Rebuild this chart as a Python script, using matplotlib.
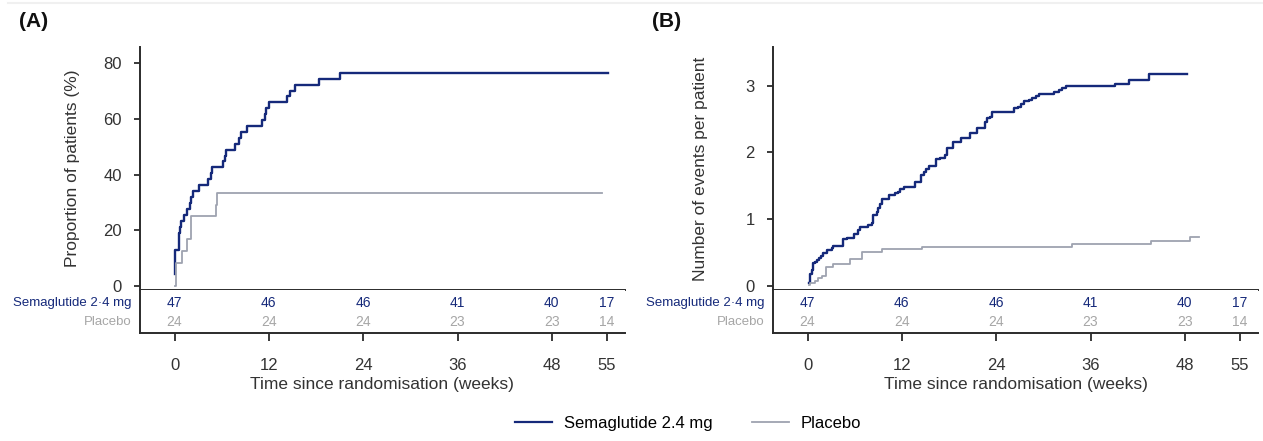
import matplotlib
matplotlib.use("Agg")
import matplotlib.pyplot as plt
from matplotlib.lines import Line2D

plt.rcParams['font.family'] = ['Liberation Sans', 'DejaVu Sans']

NAVY = "#15297a"
GREY = "#9ea3b0"
GREY_TXT = "#a6a6a6"
AXC = "#2b2b2b"

# Panel A: proportion of patients (%), step curves
sema_a_t = [0, 0.05, 0.55, 0.7, 0.85, 1.2, 1.55, 1.95, 2.15, 2.35, 3.1, 4.3, 4.6, 4.8,
            6.2, 6.4, 6.5, 7.7, 8.25, 8.45, 9.2, 11.1, 11.45, 11.65, 12.0, 14.3, 14.7,
            15.3, 18.4, 21.1, 55.2]
sema_a_v = [4.3, 12.8, 19.1, 21.3, 23.4, 25.5, 27.7, 29.8, 31.9, 34.0, 36.2, 38.3, 40.4,
            42.6, 44.7, 46.8, 48.9, 51.1, 53.2, 55.3, 57.4, 59.6, 61.7, 63.8, 66.0, 68.1,
            70.2, 72.3, 74.5, 76.6, 76.6]
plac_a_t = [0, 0.13, 1.0, 1.6, 2.15, 5.25, 5.4, 54.4]
plac_a_v = [0, 8.3, 12.5, 16.7, 25.0, 29.2, 33.3, 33.3]

# Panel B: number of events per patient
sema_b_t = [0.2, 0.3, 0.6, 0.72, 0.94, 1.15, 1.45, 1.7, 2.0, 2.43, 3.06, 3.28, 4.55, 4.98,
            5.96, 6.38, 6.68, 7.32, 7.74, 8.17, 8.38, 8.81, 9.02, 9.23, 9.45, 10.38, 11.15,
            11.49, 11.79, 12.21, 13.62, 14.43, 14.77, 15.06, 15.4, 16.34, 16.89, 17.45,
            17.74, 18.55, 19.57, 20.72, 21.57, 22.55, 22.85, 23.19, 23.49, 26.26, 26.81,
            27.11, 27.53, 28.17, 28.6, 29.11, 29.45, 31.36, 32.0, 32.43, 32.94, 39.15,
            40.94, 43.49, 48.3]
sema_b_v = [0.04, 0.17, 0.235, 0.345, 0.36, 0.385, 0.41, 0.445, 0.485, 0.535, 0.56, 0.595,
            0.695, 0.72, 0.775, 0.835, 0.875, 0.885, 0.91, 0.945, 1.06, 1.11, 1.16, 1.225,
            1.295, 1.36, 1.385, 1.41, 1.445, 1.475, 1.56, 1.66, 1.71, 1.745, 1.8, 1.895,
            1.91, 1.96, 2.06, 2.15, 2.21, 2.285, 2.36, 2.46, 2.51, 2.525, 2.61, 2.66, 2.685,
            2.725, 2.775, 2.785, 2.81, 2.845, 2.875, 2.91, 2.935, 2.96, 2.995, 3.025, 3.085,
            3.17, 3.17]
plac_b_t = [0.2, 0.3, 0.94, 1.36, 1.79, 2.34, 3.28, 5.4, 6.89, 9.45, 14.55, 33.7, 43.7,
            48.6, 49.8]
plac_b_v = [0.01, 0.035, 0.075, 0.11, 0.145, 0.285, 0.325, 0.395, 0.5, 0.545, 0.575,
            0.625, 0.675, 0.725, 0.725]

# numbers at risk
risk_weeks = [0, 12, 24, 36, 48, 55]
risk_sema = [47, 46, 46, 41, 40, 17]
risk_plac = [24, 24, 24, 23, 23, 14]

fig = plt.figure(figsize=(12.63, 4.41), dpi=100)

# faint rule at the top of the figure
fig.add_artist(Line2D([0.006, 1.0], [0.993, 0.993], transform=fig.transFigure,
                      color="#f0f0f0", lw=1.5))


def panel(left, letter, ylabel, yticks, ylim, sema, plac, ylabelpad):
    ax = fig.add_axes([left, 0.3424, 0.384, 0.551])
    tb = fig.add_axes([left, 0.2449, 0.384, 0.0975])
    xlim = (-4.4, 57.3)

    ax.step(sema[0], sema[1], where="post", color=NAVY, lw=1.7)
    ax.step(plac[0], plac[1], where="post", color=GREY, lw=1.3)
    ax.set_xlim(xlim)
    ax.set_ylim(ylim)
    ax.set_yticks(yticks)
    ax.set_xticks([])
    for s in ["top", "right"]:
        ax.spines[s].set_visible(False)
    for s in ["left", "bottom"]:
        ax.spines[s].set_color(AXC)
        ax.spines[s].set_linewidth(1.4)
    ax.tick_params(axis="y", length=4, width=1.3, color=AXC, pad=9,
                   labelsize=12, labelcolor="#333333")
    ax.set_ylabel(ylabel, fontsize=12.5, color="#333333", labelpad=ylabelpad)

    tb.set_xlim(xlim)
    tb.set_ylim(0, 1)
    tb.set_yticks([])
    tb.set_xticks(risk_weeks)
    tb.set_xticklabels([str(w) for w in risk_weeks])
    for s in ["top", "right"]:
        tb.spines[s].set_visible(False)
    for s in ["left", "bottom"]:
        tb.spines[s].set_color(AXC)
        tb.spines[s].set_linewidth(1.4)
    tb.tick_params(axis="x", length=6, width=1.3, color=AXC, pad=12,
                   labelsize=12, labelcolor="#333333")
    tb.set_xlabel("Time since randomisation (weeks)", fontsize=12.5,
                  color="#333333", labelpad=3)
    for w, s, p in zip(risk_weeks, risk_sema, risk_plac):
        tb.text(w, 0.70, str(s), ha="center", va="center", fontsize=10, color=NAVY)
        tb.text(w, 0.26, str(p), ha="center", va="center", fontsize=10, color=GREY_TXT)
    tb.text(-0.018, 0.70, "Semaglutide 2·4 mg", transform=tb.transAxes, ha="right",
            va="center", fontsize=9.5, color=NAVY)
    tb.text(-0.018, 0.26, "Placebo", transform=tb.transAxes, ha="right",
            va="center", fontsize=9.5, color=GREY_TXT)

    fig.text(left - 0.096, 0.952, letter, fontsize=15, fontweight="bold",
             ha="left", va="center", color="#111111")
    return ax


panel(0.1108, "(A)", "Proportion of patients (%)", [0, 20, 40, 60, 80], (-1.55, 85.9),
      (sema_a_t, sema_a_v), (plac_a_t, plac_a_v), 17)
panel(0.612, "(B)", "Number of events per patient", [0, 1, 2, 3], (-0.065, 3.58),
      (sema_b_t, sema_b_v), (plac_b_t, plac_b_v), 27)

handles = [Line2D([], [], color=NAVY, lw=1.6), Line2D([], [], color=GREY, lw=1.3)]
fig.legend(handles, ["Semaglutide 2.4 mg", "Placebo"], loc="center",
           bbox_to_anchor=(0.545, 0.039), ncol=2, frameon=False, fontsize=12,
           handlelength=2.2, columnspacing=2.4, handletextpad=0.7)

fig.savefig("out.png", dpi=100)
